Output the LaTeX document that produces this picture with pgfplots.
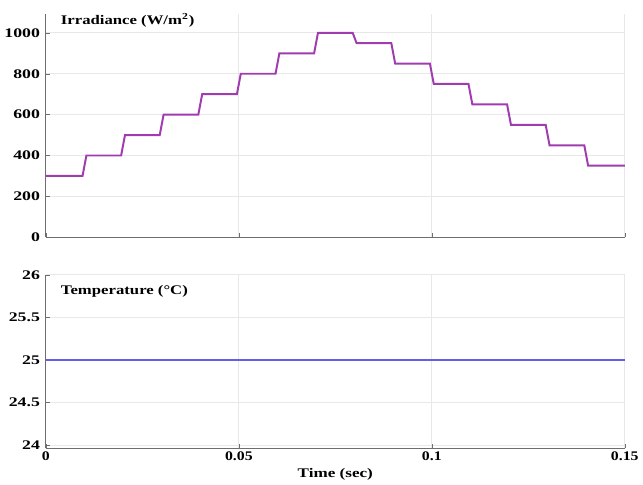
\documentclass[border=0pt]{standalone}
\usepackage{fontspec}
\setmainfont{Liberation Serif}
\usepackage{pgfplots}
\pgfplotsset{compat=1.18}
\definecolor{irr}{RGB}{160,60,175}
\definecolor{tmp}{RGB}{95,95,235}
\definecolor{gridc}{RGB}{232,232,232}
\definecolor{axc}{RGB}{110,110,110}
\newcommand{\tl}[1]{\scalebox{1.35}[1]{\bfseries\pgfmathprintnumber[fixed,precision=2,assume math mode=true,1000 sep={}]{#1}}}
\newcommand{\xtl}[1]{\scalebox{1.2}[1]{\bfseries\pgfmathprintnumber[fixed,precision=2,assume math mode=true,1000 sep={}]{#1}}}
\begin{document}
\begin{tikzpicture}
\pgfplotsset{
  myax/.style={
    scale only axis,
    width=440pt,
    xmin=0, xmax=0.15,
    xtick={0,0.05,0.1,0.15},
    scaled ticks=false,
    axis x line=bottom, axis y line=left,
    axis line style={-, axc, line width=0.6pt},
    grid=major,
    major grid style={gridc, line width=0.6pt},
    tick align=inside,
    major tick length=3pt,
    tick style={axc},
    yticklabel={\tl{\tick}},
    xticklabel={\xtl{\tick}},
    yticklabel style={xshift=-1pt},
    xticklabel style={yshift=1pt},
    clip=false,
  }
}
\begin{axis}[myax, name=top, height=169.3pt, ymin=0, ymax=1090,
  ytick={0,200,400,600,800,1000}, xticklabels={}]
\addplot[irr, line width=1.5pt] coordinates {
(0,300)(0.0095,300)(0.0105,400)(0.0195,400)(0.0205,500)(0.0295,500)
(0.0305,600)(0.0395,600)(0.0405,700)(0.0495,700)(0.0505,800)(0.0595,800)
(0.0605,900)(0.0695,900)(0.0705,1000)(0.0795,1000)(0.0805,950)(0.0895,950)
(0.0905,850)(0.0995,850)(0.1005,750)(0.1095,750)(0.1105,650)(0.1195,650)
(0.1205,550)(0.1295,550)(0.1305,450)(0.1395,450)(0.1405,350)(0.15,350)};
\node[anchor=west, font=\bfseries] at (rel axis cs:0.018,0.975)
  {\scalebox{1.27}[1]{Irradiance (W/m\textsuperscript{2})}};
\path (rel axis cs:0,1) -- ++(0,11pt);
\end{axis}
\begin{axis}[myax, at={(top.south west)}, anchor=north west, yshift=-28.5pt,
  height=132pt, ymin=23.96, ymax=26,
  ytick={24,24.5,25,25.5,26},
  xlabel={\scalebox{1.3}[1]{\bfseries Time (sec)}},
  xlabel style={yshift=1pt}]
\addplot[tmp, line width=2pt] coordinates {(0,25)(0.15,25)};
\node[anchor=west, font=\bfseries] at (rel axis cs:0.018,0.905)
  {\scalebox{1.27}[1]{Temperature (°C)}};
\end{axis}
\end{tikzpicture}
\end{document}
